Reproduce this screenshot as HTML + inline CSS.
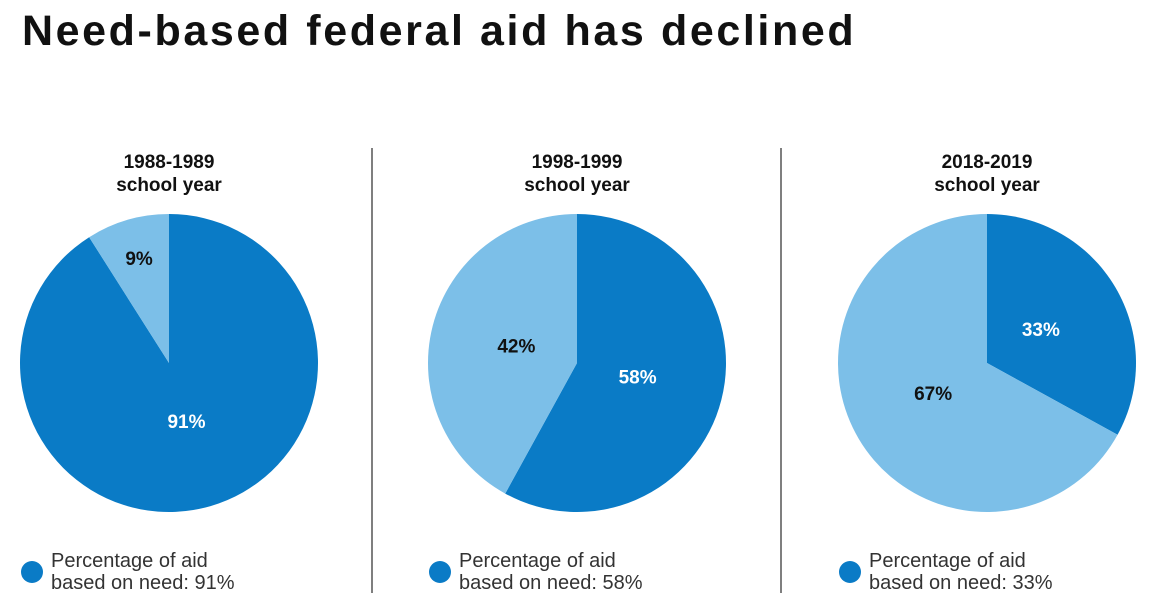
<!DOCTYPE html>
<html><head><meta charset="utf-8"><style>
body{margin:0;background:#fff;width:1150px;height:593px;overflow:hidden;font-family:"Liberation Sans",sans-serif;}
</style></head><body>
<svg width="1150" height="593" id="svg" style="position:absolute;left:0;top:0">
<text x="22" y="45" font-size="43" font-weight="bold" letter-spacing="2.6" fill="#111">Need-based federal aid has declined</text>
<line x1="372" y1="148" x2="372" y2="593" stroke="#555" stroke-width="1.5"/>
<line x1="781" y1="148" x2="781" y2="593" stroke="#555" stroke-width="1.5"/>
</svg>
<script>
const years = ["1988-1989","1998-1999","2018-2019"];
const needPct = [91,58,33];
const DARK="#0a7bc6", LIGHT="#7cbfe8";
const centers=[169,577,987], CY=363, R=149;
const svg=document.getElementById('svg');
const NS="http://www.w3.org/2000/svg";
function mk(t,a){const e=document.createElementNS(NS,t);for(const k in a)e.setAttribute(k,a[k]);svg.appendChild(e);return e;}
function pt(cx,ang,r){return [cx+r*Math.sin(ang),CY-r*Math.cos(ang)];}
function slice(cx,a0,a1,fill){
  const [x0,y0]=pt(cx,a0,R),[x1,y1]=pt(cx,a1,R);
  const large=(a1-a0)>Math.PI?1:0;
  return mk('path',{d:`M${cx},${CY}L${x0},${y0}A${R},${R} 0 ${large} 1 ${x1},${y1}Z`,fill:fill});
}
years.forEach((y,i)=>{
  const cx=centers[i], p=needPct[i], a=p/100*2*Math.PI;
  let t=mk('text',{x:cx,y:168,'font-size':19,'font-weight':'bold','text-anchor':'middle',fill:'#111'});
  t.textContent=y;
  
  
  t=mk('text',{x:cx,y:191,'font-size':19,'font-weight':'bold','text-anchor':'middle',fill:'#111'});
  t.textContent="school year";
  
  
  const s1=slice(cx,0,a,DARK);
  
  
  const s2=slice(cx,a,2*Math.PI,LIGHT);
  
  
  [[p,0,a,'#fff'],[100-p,a,2*Math.PI,'#111']].forEach(([v,b0,b1,col],j)=>{
    const mid=(b0+b1)/2, rr=v<15?R*0.72:R*0.42;
    const [lx,ly]=pt(cx,mid,rr);
    const l=mk('text',{x:lx,y:ly+5,'font-size':19,'font-weight':'bold','text-anchor':'middle',fill:col});
    l.textContent=v+"%";
    
    
  });
  const lc=mk('circle',{cx:cx-137,cy:572,r:11,fill:DARK});
  
  
  t=mk('text',{x:cx-118,y:567,'font-size':20,fill:'#333'});
  t.textContent="Percentage of aid";
  
  
  t=mk('text',{x:cx-118,y:589,'font-size':20,fill:'#333'});
  t.textContent="based on need: "+p+"%";
  
  
});
</script>
</body></html>
